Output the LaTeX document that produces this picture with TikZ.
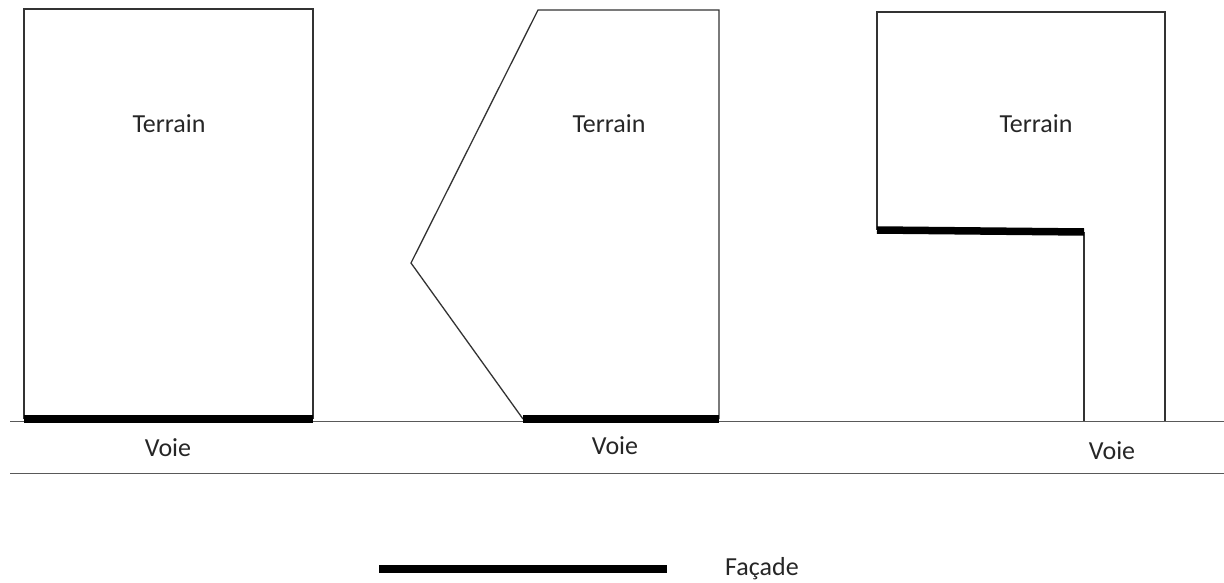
\documentclass[tikz,border=0pt]{standalone}
\usepackage{fontspec}
\setmainfont{Carlito}
\begin{document}
\begin{tikzpicture}[x=1pt,y=-1pt,
  plot/.style={draw=black!80,line width=1.3pt,line join=miter},
  facade/.style={line width=7.5pt,line cap=butt},
  road/.style={draw=black!65,line width=1pt},
  lbl/.style={font=\fontsize{26}{30}\selectfont,inner sep=0pt,text=black!85}]
\useasboundingbox (0,0) rectangle (1224,583);
% roads
\coordinate (r1a) at (10,421); \coordinate (r1b) at (1224,421);
\coordinate (r2a) at (10,473); \coordinate (r2b) at (1224,473);
\draw[road] (r1a) -- (r1b);
\draw[road] (r2a) -- (r2b);
% plot 1
\coordinate (a1) at (24,419); \coordinate (a2) at (24,9);
\coordinate (a3) at (313,9); \coordinate (a4) at (313,419);
\draw[plot] (a1) -- (a2) -- (a3) -- (a4);
\draw[facade] (a1) -- (a4);
% plot 2
\coordinate (b1) at (523,419); \coordinate (b2) at (411,263);
\coordinate (b3) at (538,10); \coordinate (b4) at (719,10);
\coordinate (b5) at (719,419);
\draw[plot] (b1) -- (b2) -- (b3) -- (b4) -- (b5);
\draw[facade] (b1) -- (b5);
% plot 3
\coordinate (c1) at (877,230); \coordinate (c2) at (877,12);
\coordinate (c3) at (1165,12); \coordinate (c4) at (1165,421);
\coordinate (c5) at (1084,232); \coordinate (c6) at (1084,421);
\draw[plot] (c1) -- (c2) -- (c3) -- (c4);
\draw[plot] (c5) -- (c6);
\draw[facade] (c1) -- (c5);
% labels
\node[lbl] (t1) at (169,124) {Terrain};
\node[lbl] (t2) at (609,124) {Terrain};
\node[lbl] (t3) at (1036,124) {Terrain};
\node[lbl] (v1) at (168,448) {Voie};
\node[lbl] (v2) at (615,446) {Voie};
\node[lbl] (v3) at (1112,451) {Voie};
% legend
\coordinate (la) at (379,569); \coordinate (lb) at (667,569);
\draw[facade] (la) -- (lb);
\node[lbl,anchor=west] (f) at (725,569) {Façade};
\end{tikzpicture}
\end{document}
